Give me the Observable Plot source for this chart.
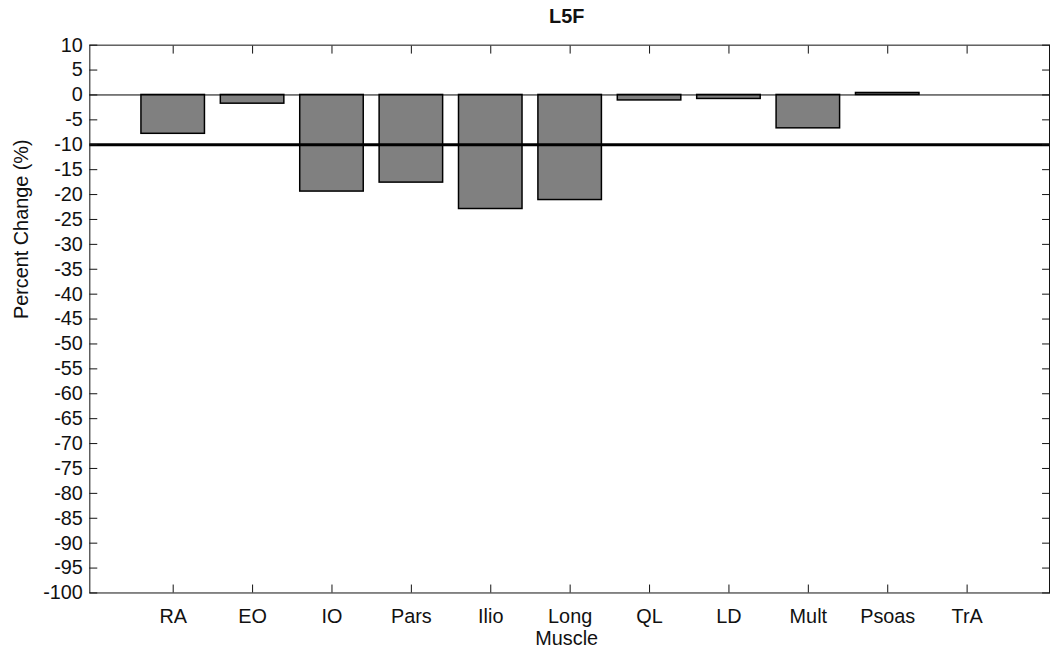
<!DOCTYPE html>
<html><head><meta charset="utf-8">
<script src="https://cdn.jsdelivr.net/npm/d3@7"></script>
<script src="https://cdn.jsdelivr.net/npm/@observablehq/plot@0.6"></script>
<style>
html,body{margin:0;padding:0;background:#fff;overflow:hidden;}
#wrap{width:1050px;height:653px;overflow:hidden;}
</style></head><body><div id="wrap"></div>
<script>
const muscles = ["RA","EO","IO","Pars","Ilio","Long","QL","LD","Mult","Psoas","TrA"];
const percentChange = [-7.8,-1.75,-19.4,-17.6,-22.9,-21.1,-1.1,-0.8,-6.7,0.4,0];
const yTicks = [10,5,0,-5,-10,-15,-20,-25,-30,-35,-40,-45,-50,-55,-60,-65,-70,-75,-80,-85,-90,-95,-100];
const threshold = [-10];
const titleText = ["L5F"];
const xLabel = ["Muscle"];
const yLabel = ["Percent Change (%)"];

const data = muscles.map((m, i) => ({muscle: m, value: percentChange[i]}));
const fmt = d => String(d);
const font = "'Liberation Sans', Arial, Helvetica, sans-serif";

const chart = Plot.plot({
  width: 1058, height: 653,
  marginLeft: 90, marginRight: 1, marginTop: 45, marginBottom: 56,
  style: {fontFamily: font, fontSize: "20px", color: "#111", background: "#fff"},
  x: {domain: muscles, paddingInner: 0.2, paddingOuter: 0.6, label: null},
  y: {domain: [-100, 10], label: null},
  marks: [
    Plot.barY(data, {x: "muscle", y: "value", fill: "#808080", stroke: "#000", strokeWidth: 1.5}),
    Plot.ruleY([0], {stroke: "#000", strokeWidth: 1}),
    Plot.ruleY(threshold, {stroke: "#000", strokeWidth: 3}),
    Plot.frame({stroke: "#111"}),
    Plot.axisY(yTicks, {anchor: "left", tickSize: -8, tickPadding: 15, tickFormat: fmt, fontSize: 20, label: null}),
    Plot.axisY(yTicks, {anchor: "right", tickSize: -8, tickFormat: () => "", label: null}),
    Plot.axisX({anchor: "bottom", tickSize: -8, tickPadding: 24, fontSize: 20, label: null}),
    Plot.axisX({anchor: "top", tickSize: -8, tickFormat: () => "", label: null}),
    Plot.text(titleText, {frameAnchor: "top", lineAnchor: "middle", dy: -29, dx: -3, fontWeight: "bold", fontSize: 20}),
    Plot.text(xLabel, {frameAnchor: "bottom", lineAnchor: "middle", dy: 46, dx: -3, fontSize: 20}),
    Plot.text(yLabel, {frameAnchor: "left", rotate: -90, dx: -69, fontSize: 20})
  ]
});
document.getElementById("wrap").appendChild(chart);
</script></body></html>
